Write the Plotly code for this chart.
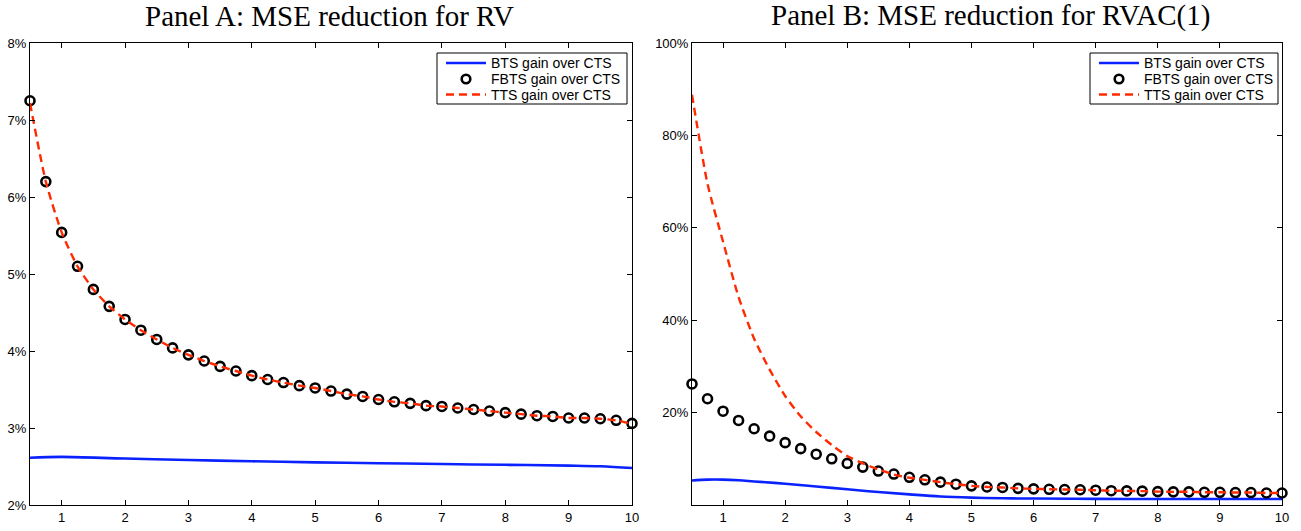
import plotly.graph_objects as go

# ---------------- data ----------------
x_grid = [0.5, 0.75, 1.0, 1.25, 1.5, 1.75, 2.0, 2.25, 2.5, 2.75, 3.0, 3.25, 3.5, 3.75,
          4.0, 4.25, 4.5, 4.75, 5.0, 5.25, 5.5, 5.75, 6.0, 6.25, 6.5, 6.75, 7.0, 7.25,
          7.5, 7.75, 8.0, 8.25, 8.5, 8.75, 9.0, 9.25, 9.5, 9.75, 10.0]

# Panel A (percent)
a_fbts = [7.25, 6.20, 5.54, 5.10, 4.80, 4.58, 4.41, 4.27, 4.15, 4.04, 3.95, 3.87, 3.80, 3.74,
          3.68, 3.63, 3.59, 3.55, 3.52, 3.48, 3.44, 3.41, 3.37, 3.34, 3.32, 3.29, 3.28, 3.26,
          3.24, 3.22, 3.20, 3.18, 3.16, 3.15, 3.13, 3.13, 3.12, 3.10, 3.06]
a_tts = [7.22, 6.20, 5.54, 5.10, 4.80, 4.58, 4.41, 4.27, 4.15, 4.04, 3.95, 3.87, 3.80, 3.74,
         3.68, 3.63, 3.59, 3.55, 3.52, 3.48, 3.44, 3.41, 3.37, 3.34, 3.32, 3.29, 3.28, 3.26,
         3.24, 3.22, 3.20, 3.18, 3.16, 3.15, 3.13, 3.13, 3.12, 3.10, 3.05]
a_bts_x = [0.5, 1.0, 2.0, 3.0, 4.0, 5.0, 6.0, 7.0, 8.0, 9.0, 9.5, 10.0]
a_bts = [2.614, 2.625, 2.603, 2.584, 2.568, 2.554, 2.543, 2.532, 2.522, 2.512, 2.503, 2.48]

# Panel B (percent)
b_fbts = [26.2, 23.0, 20.3, 18.3, 16.5, 14.9, 13.5, 12.2, 11.0, 10.0, 9.0, 8.2, 7.35, 6.7,
          6.0, 5.45, 4.95, 4.5, 4.15, 3.9, 3.8, 3.6, 3.5, 3.4, 3.35, 3.3, 3.2, 3.1,
          3.05, 3.0, 2.9, 2.85, 2.85, 2.75, 2.75, 2.7, 2.7, 2.6, 2.6]
b_tts = [88.8, 69.5, 57.0, 45.0, 36.0, 29.3, 23.6, 19.2, 15.8, 13.0, 10.6, 9.0, 7.7, 6.6,
         5.9, 5.45, 4.95, 4.5, 4.15, 3.9, 3.8, 3.6, 3.5, 3.4, 3.35, 3.3, 3.2, 3.1,
         3.05, 3.0, 2.9, 2.85, 2.85, 2.75, 2.75, 2.7, 2.7, 2.6, 2.6]
b_bts_x = [0.5, 0.75, 1.0, 1.25, 1.5, 2.0, 2.5, 3.0, 3.5, 4.0, 4.5, 5.0, 5.5, 6.0, 7.0, 8.0, 9.0, 10.0]
b_bts = [5.3, 5.5, 5.5, 5.35, 5.1, 4.6, 4.0, 3.4, 2.8, 2.3, 1.85, 1.6, 1.45, 1.4, 1.32, 1.3, 1.3, 1.3]

x_ticks = [1, 2, 3, 4, 5, 6, 7, 8, 9, 10]
a_yticks = [2, 3, 4, 5, 6, 7, 8]
b_yticks = [20, 40, 60, 80, 100]

titles = ["Panel A: MSE reduction for RV", "Panel B: MSE reduction for RVAC(1)"]
names = ["BTS gain over CTS", "FBTS gain over CTS", "TTS gain over CTS"]

# ---------------- style / geometry ----------------
W, H = 1301, 531
L, R, T, B = 30, 1282, 43, 505          # plot area in pixels
BLUE = "#0a22ff"
RED = "#ff2a00"
DASH = "8px,5px"
SANS = "Liberation Sans, Arial, Helvetica, sans-serif"
SERIF = "Liberation Serif, Times New Roman, serif"

def px_x(p):
    return (p - L) / (R - L)

def px_y(p):
    return (B - p) / (B - T)

fig = go.Figure()

def add_panel(xa, ya, bx, by, fx, fy, tx, ty):
    fig.add_trace(go.Scatter(x=bx, y=by, mode="lines", name=names[0], xaxis=xa, yaxis=ya,
                             showlegend=False,
                             line=dict(color=BLUE, width=2.6, shape="spline")))
    fig.add_trace(go.Scatter(x=fx, y=fy, mode="markers", name=names[1], xaxis=xa, yaxis=ya,
                             showlegend=False, cliponaxis=False,
                             marker=dict(symbol="circle-open", size=9, color="black",
                                         line=dict(width=2.6, color="black"))))
    fig.add_trace(go.Scatter(x=tx, y=ty, mode="lines", name=names[2], xaxis=xa, yaxis=ya,
                             showlegend=False,
                             line=dict(color=RED, width=2.4, dash=DASH, shape="spline",
                                       smoothing=0.6)))

add_panel("x", "y", a_bts_x, a_bts, x_grid, a_fbts, x_grid, a_tts)
add_panel("x2", "y2", b_bts_x, b_bts, x_grid, b_fbts, x_grid, b_tts)

axis_common = dict(showline=True, linecolor="black", linewidth=1, mirror="ticks",
                   ticks="inside", ticklen=5, tickcolor="black", tickwidth=1,
                   showgrid=False, zeroline=False, automargin=False,
                   tickfont=dict(family=SANS, size=13, color="black"))

fig.update_layout(
    width=W, height=H,
    margin=dict(l=L, r=W - R, t=T, b=H - B, autoexpand=False),
    paper_bgcolor="white", plot_bgcolor="white",
    showlegend=False,
    hovermode=False,
    xaxis=dict(domain=[0, px_x(632)], range=[0.5, 10], tickvals=x_ticks,
               anchor="y", **axis_common),
    yaxis=dict(range=[2, 8], tickvals=a_yticks,
               ticktext=[f"{v}%" for v in a_yticks], anchor="x", **axis_common),
    xaxis2=dict(domain=[px_x(692), 1], range=[0.5, 10], tickvals=x_ticks,
                anchor="y2", **axis_common),
    yaxis2=dict(range=[0, 100], tickvals=b_yticks,
                ticktext=[f"{v}%" for v in b_yticks], anchor="x2", **axis_common),
)

# titles
for cx, t in zip([329, 990], titles):
    fig.add_annotation(x=px_x(cx), y=px_y(16), xref="paper", yref="paper",
                       text=t, showarrow=False, xanchor="center", yanchor="middle",
                       font=dict(family=SERIF, size=29, color="black"))

# legends (boxed, drawn at top right of each panel)
row_y = [63, 79, 94.5]
for left, right in [(437, 627), (1090, 1278)]:
    fig.add_shape(type="rect", xref="paper", yref="paper",
                  x0=px_x(left), x1=px_x(right), y0=px_y(53), y1=px_y(104),
                  line=dict(color="black", width=1), fillcolor="white", layer="above")
    lx0, lx1, cx = left + 9, left + 49, left + 29
    fig.add_shape(type="line", xref="paper", yref="paper",
                  x0=px_x(lx0), x1=px_x(lx1), y0=px_y(row_y[0]), y1=px_y(row_y[0]),
                  line=dict(color=BLUE, width=2.6), layer="above")
    fig.add_shape(type="circle", xref="paper", yref="paper",
                  x0=px_x(cx - 4.3), x1=px_x(cx + 4.3),
                  y0=px_y(row_y[1] + 4.3), y1=px_y(row_y[1] - 4.3),
                  line=dict(color="black", width=2.6), layer="above")
    fig.add_shape(type="line", xref="paper", yref="paper",
                  x0=px_x(lx0), x1=px_x(lx1), y0=px_y(row_y[2]), y1=px_y(row_y[2]),
                  line=dict(color=RED, width=2.4, dash=DASH), layer="above")
    for ry, nm in zip(row_y, names):
        fig.add_annotation(x=px_x(left + 52), y=px_y(ry), xref="paper", yref="paper",
                           text=nm, showarrow=False, xanchor="left", yanchor="middle",
                           font=dict(family=SANS, size=14, color="black"))

# remove the default 8px page margin so the figure fills the window exactly
fig.write_html("out.html",
               config={"displayModeBar": False},
               post_script="document.body.style.margin='0';document.body.style.overflow='hidden';")
